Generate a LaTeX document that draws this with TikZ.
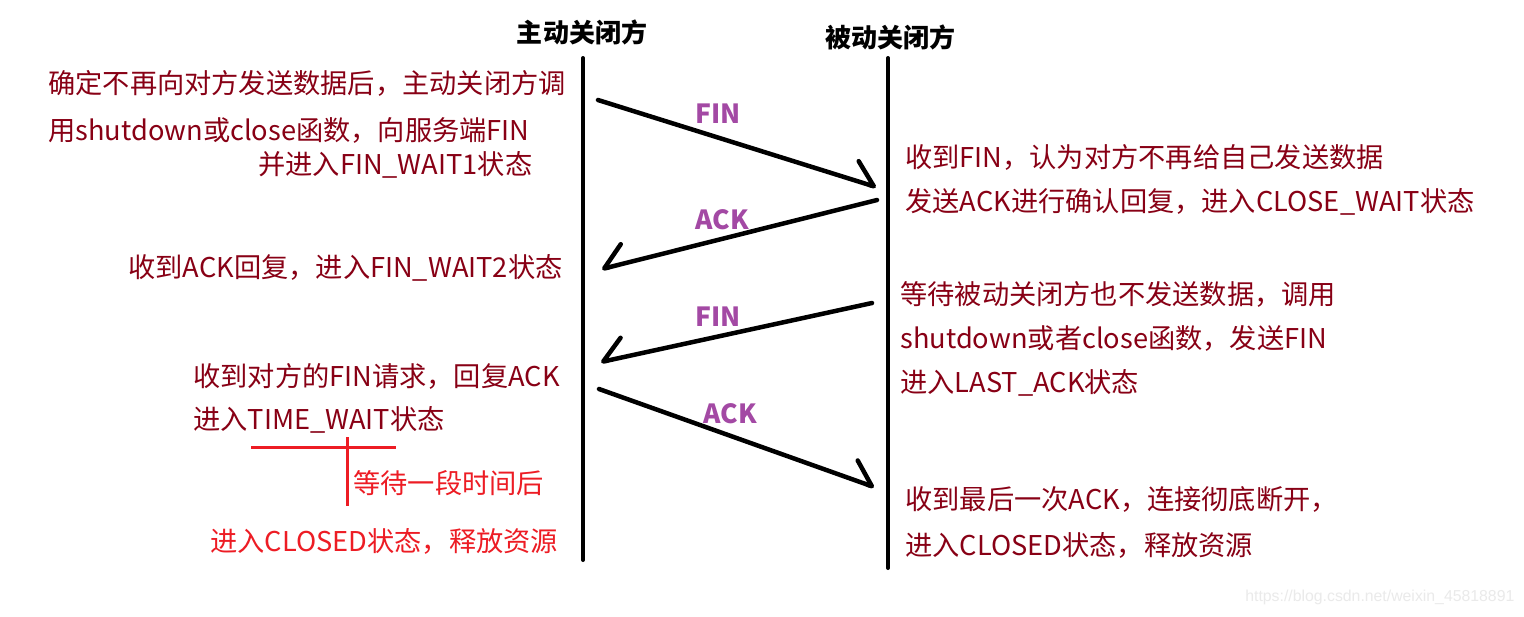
\documentclass[tikz,border=0pt]{standalone}
\usepackage{fontspec}
\setmainfont{Noto Sans CJK SC}
\newfontfamily\cjk{Noto Sans CJK SC}
\newfontfamily\wmfont{Liberation Sans}
\usetikzlibrary{arrows.meta}
\definecolor{darkred}{RGB}{136,0,21}
\definecolor{pred}{RGB}{237,28,36}
\definecolor{purp}{RGB}{163,73,164}
\definecolor{wmgray}{RGB}{234,234,234}
\tikzset{
  txt/.style={anchor=west, inner sep=0pt, text height=0.88em, text depth=0.12em, yshift=-0.06cm,
    font=\cjk\fontsize{15.5pt}{18pt}\selectfont, text=darkred},
  redtxt/.style={txt, text=pred},
  titletxt/.style={inner sep=0pt, text height=0.88em, text depth=0.12em, yshift=-0.06cm,
    font=\cjk\bfseries\fontsize{14.8pt}{18pt}\selectfont, text=black},
  msglabel/.style={inner sep=0pt, font=\cjk\bfseries\fontsize{15pt}{18pt}\selectfont, text=purp},
  lifeline/.style={line width=0.08cm, line cap=round, black},
  msgL/.style={line width=0.09cm, line cap=round, black,
    -{Straight Barb[left, round, length=0.44cm, width=0.78cm]}},
  msgR/.style={line width=0.09cm, line cap=round, black,
    -{Straight Barb[right, round, length=0.44cm, width=0.78cm]}},
  redmark/.style={line width=0.06cm, pred},
}
\begin{document}
\begin{tikzpicture}[x=0.02cm,y=-0.02cm]
\path[fill=white] (0,0) rectangle (1524,616);
\useasboundingbox (0,0) rectangle (1524,616);

% titles
\node[titletxt] (tA) at (582,33) {主动关闭方};
\node[titletxt] (tB) at (890,38) {被动关闭方};

% lifelines
\coordinate (Atop) at (583,58);
\coordinate (Abot) at (583,560);
\coordinate (Btop) at (888,58);
\coordinate (Bbot) at (888,568);
\draw[lifeline] (Atop) -- (Abot);
\draw[lifeline] (Btop) -- (Bbot);

% messages
\coordinate (m1s) at (598,100);
\coordinate (m1t) at (876,187);
\coordinate (m2s) at (877,200);
\coordinate (m2t) at (602,269);
\coordinate (m3s) at (872,303);
\coordinate (m3t) at (601,362);
\coordinate (m4s) at (599,389);
\coordinate (m4t) at (874,487);
\draw[msgL] (m1s) -- (m1t);
\draw[msgR] (m2s) -- (m2t);
\draw[msgR] (m3s) -- (m3t);
\draw[msgL] (m4s) -- (m4t);

\node[msglabel] (l1) at (718,114) {FIN};
\node[msglabel] (l2) at (722,220) {ACK};
\node[msglabel] (l3) at (718,317) {FIN};
\node[msglabel] (l4) at (730,414) {ACK};

% left side texts
\node[txt] (L1) at (48,84) {确定不再向对方发送数据后，主动关闭方调};
\node[txt] (L2) at (48,131) {用shutdown或close函数，向服务端FIN};
\node[txt] (L3) at (258,165) {并进入FIN\_WAIT1状态};
\node[txt] (L4) at (128,268) {收到ACK回复，进入FIN\_WAIT2状态};
\node[txt] (L5) at (193,377) {收到对方的FIN请求，回复ACK};
\node[txt] (L6) at (193,420) {进入TIME\_WAIT状态};
\node[redtxt] (L7) at (353,484) {等待一段时间后};
\node[redtxt] (L8) at (210,542) {进入CLOSED状态，释放资源};

% red marks
\coordinate (h1) at (251,447);
\coordinate (h2) at (396,447);
\coordinate (v1) at (347,437);
\coordinate (v2) at (347,506);
\draw[redmark] (h1) -- (h2);
\draw[redmark] (v1) -- (v2);

% right side texts
\node[txt] (R1) at (905,158) {收到FIN，认为对方不再给自己发送数据};
\node[txt] (R2) at (905,202) {发送ACK进行确认回复，进入CLOSE\_WAIT状态};
\node[txt] (R3) at (900,295) {等待被动关闭方也不发送数据，调用};
\node[txt] (R4) at (900,339) {shutdown或者close函数，发送FIN};
\node[txt] (R5) at (900,383) {进入LAST\_ACK状态};
\node[txt] (R6) at (905,500) {收到最后一次ACK，连接彻底断开，};
\node[txt] (R7) at (905,546) {进入CLOSED状态，释放资源};

% watermark
\node[anchor=west, inner sep=0pt, font=\wmfont\fontsize{9pt}{11pt}\selectfont, text=wmgray] (wm) at (1245,597) {https://blog.csdn.net/weixin\_45818891};
\end{tikzpicture}
\end{document}
